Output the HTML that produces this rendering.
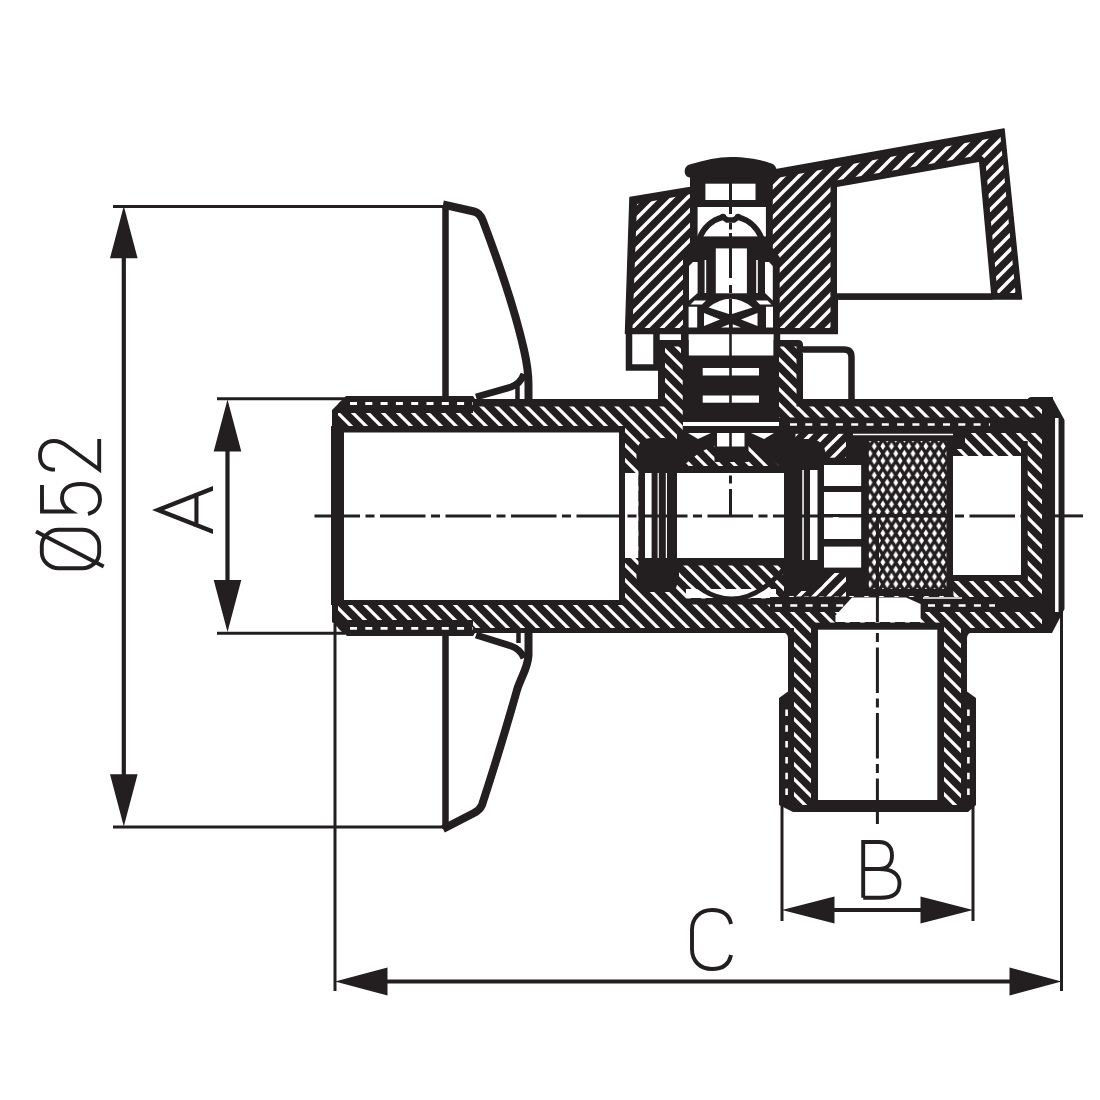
<!DOCTYPE html>
<html><head><meta charset="utf-8">
<style>
html,body{margin:0;padding:0;background:#fff;width:1100px;height:1100px;overflow:hidden;font-family:"Liberation Sans",sans-serif;}
svg{display:block;}
</style></head>
<body>
<svg width="1100" height="1100" viewBox="0 0 1100 1100">
<defs>
<pattern id="hb" patternUnits="userSpaceOnUse" width="15" height="15">
<rect width="15" height="15" fill="#231f20"/>
<path d="M-3.75,-3.75 L18.75,18.75 M-3.75,11.25 L3.75,18.75 M11.25,-3.75 L18.75,3.75" stroke="#fff" stroke-width="3.2"/>
</pattern>
<pattern id="hf" patternUnits="userSpaceOnUse" width="15" height="15">
<rect width="15" height="15" fill="#231f20"/>
<path d="M-3.75,18.75 L18.75,-3.75 M-3.75,3.75 L3.75,-3.75 M11.25,18.75 L18.75,11.25" stroke="#fff" stroke-width="3.4"/>
</pattern>
<pattern id="mesh" patternUnits="userSpaceOnUse" width="8.6" height="14.5" x="865.7" y="435.4">
<rect width="8.6" height="14.5" fill="#231f20"/>
<path d="M4.3,-0.2 L6.75,3.6 L4.3,7.4 L1.85,3.6 Z M0,7.05 L2.45,10.85 L0,14.65 L-2.45,10.85 Z M8.6,7.05 L11.05,10.85 L8.6,14.65 L6.15,10.85 Z" fill="#fff"/>
</pattern>
</defs>
<rect width="1100" height="1100" fill="#fff"/>

<g id="dims" stroke="#231f20" fill="none">
  <!-- extension lines -->
  <path d="M113,206.5 H444 M113,827 H444 M217,398.8 H345 M217,633.3 H345" stroke-width="3"/>
  <path d="M335,624 V991 M1061.5,612 V991 M782,803 V921 M973,803 V921" stroke-width="3"/>
  <!-- dim lines -->
  <path d="M123.8,250 V780 M227.5,445 V585 M380,981.5 H1015 M828,910 H928" stroke-width="4.2"/>
</g>
<g id="arrows" fill="#231f20">
  <path d="M123.8,206 L137.6,258.3 L110,258.3 Z M123.8,826.5 L137.6,774.2 L110,774.2 Z"/>
  <path d="M227.5,399.5 L241.3,451.5 L213.7,451.5 Z M227.5,632 L241.3,580 L213.7,580 Z"/>
  <path d="M335,981.5 L387.5,967.5 L387.5,995.5 Z M1061.5,981.5 L1009.5,967.5 L1009.5,995.5 Z"/>
  <path d="M782,910 L834.5,896.5 L834.5,923.5 Z M973,910 L920.5,896.5 L920.5,923.5 Z"/>
</g>

<!-- text drawn as strokes -->
<g id="txt" stroke="#231f20" fill="none" stroke-width="3.9" stroke-linecap="butt">
  <!-- Ø52 rotated -->
  <g transform="translate(101,571) rotate(-90)">
    <!-- Ø: width ~42, height 61 -->
    <rect x="2.8" y="-59.2" width="38.4" height="57.4" rx="16" ry="17"/>
    <path d="M39.4,-65 L4.6,2.7"/>
    <!-- 5 -->
    <path transform="translate(55,0)" d="M31,-59 H4.5 V-30 C8,-36 12,-39 18,-39 C27,-39 32,-32 32,-20 C32,-8 26,-1 17,-1 C10,-1 4,-5 2,-13"/>
    <!-- 2 -->
    <path transform="translate(99,0)" d="M2.4,-46 C2.4,-56 8,-61 16.5,-61 C25,-61 31,-56 31,-47 C31,-42 29,-38 26,-34 L2.5,-1.8 H33"/>
  </g>
  <!-- A rotated -->
  <g transform="translate(213,534) rotate(-90)">
    <path d="M0,0 L24,-61 L48,0 H43.3 L24,-49 L4.7,0 Z M7,-18.6 H41 V-14.5 H7 Z" fill="#231f20" stroke="none"/>
  </g>
  <!-- B -->
  <g transform="translate(860,899.5)">
    <path d="M3.2,-1.8 V-57.5 H19 C28,-57.5 32,-52 32,-44 C32,-36 28,-30.5 19,-30.5 H3.2 M19,-30.5 C32,-30.5 39.5,-26 39.5,-16 C39.5,-6 33,-1.8 21,-1.8 H3.2"/>
  </g>
  <!-- C -->
  <g transform="translate(690,970)">
    <path d="M41,-46 C39,-56 32,-60 22,-60 C10,-60 2,-52 2,-40 V-21 C2,-9 10,-1 22,-1 C32,-1 39,-5 41,-15"/>
  </g>
</g>

<!--BODY-->
<!-- handle wings -->
<g fill="none" stroke="#231f20" stroke-linejoin="round">
  <path d="M445.5,399 V205" stroke-width="6.5"/>
  <path d="M443,204.5 L474,211.5 C478.5,212.5 481,215.5 483,221 C497,258 515,310 524,350 C527,363 528.5,372 528.5,385 V399" stroke-width="8"/>
  <path d="M476,397 L511,387 C517,385 521,382 524,374" stroke-width="7"/>
  <path d="M517.5,385 V399" stroke-width="4.5"/>
  <path d="M445.5,633 V829" stroke-width="6.5"/>
  <path d="M443,829 L474,813 C478,811 480.5,808.5 482,805 C495,765 508,722 517,690 C521,677 528,668 528.5,655 V633" stroke-width="8"/>
  <path d="M476,635 L511,646 C517,648 521,651 524,658" stroke-width="7"/>
  <path d="M518.5,633 V643" stroke-width="4.5"/>
</g>

<!-- ===== BODY ===== -->
<g id="body">
  <!-- silhouette -->
  <path fill="#231f20" d="M332,410 L346,396 H473 L475,399 H658 V340 H798 Q803,340 803,345 V399 H1053 L1064.5,420 V609 L1052,633 H967 V691.5 L976,698 V805 L968,812 H793 L779,805 V698 L788,691.5 V633 H475 L473,636 H347 L332,622 Z"/>
  <!-- hatch inside -->
  <path fill="url(#hb)" d="M338,413 H473 V406.5 H665 V346.5 H796.5 V406.5 H1042 V628 H961 V805 H794 V628 H347 L338,619 Z"/>
  <!-- thread rows left pipe -->
  <path fill="#231f20" d="M338,404 L341,401 H473 V412 H338 Z"/>
  <path fill="#231f20" d="M338,620 H473 V633 H343 L338,628 Z"/>
  <path d="M350,403.5 H473 M350,628.3 H473" stroke="#fff" stroke-width="2.8" stroke-dasharray="7,8.3"/>
  <!-- left pipe bore -->
  <rect x="331" y="426" width="294" height="179" fill="#231f20"/>
  <rect x="344" y="432.5" width="275" height="167.5" fill="#fff"/>

  <!-- left seat column -->
  <rect x="625" y="473" width="13.5" height="85" fill="#fff"/>
  <rect x="638.5" y="440" width="38.5" height="152" rx="8" fill="#231f20"/>
  <rect x="636.5" y="438" width="42.5" height="35" rx="15" fill="#231f20"/>
  <rect x="636.5" y="557" width="42.5" height="35" rx="15" fill="#231f20"/>
  <rect x="645" y="473" width="6.6" height="85" fill="#fff"/>
  <rect x="657.6" y="473" width="1.2" height="85" fill="#fff"/>
  <rect x="665.8" y="473" width="1.2" height="85" fill="#fff"/>

  <!-- stem region above ball -->
  <rect x="682.7" y="346" width="96.3" height="86" fill="#231f20"/>
  <rect x="688.6" y="334" width="85" height="21.5" fill="#fff"/>
  <rect x="681" y="330" width="7.6" height="26" fill="#231f20"/>
  <rect x="773.6" y="330" width="6.6" height="26" fill="#231f20"/>
  <rect x="702.7" y="368" width="56.3" height="7.5" fill="#fff"/>
  <rect x="702.7" y="395.5" width="56.3" height="7.2" fill="#fff"/>
  <rect x="683" y="422" width="96" height="4" fill="#fff"/>
  <path d="M730.5,334 V403" stroke="#231f20" stroke-width="2.6"/>
  <!-- ball top area -->
  <path fill="url(#hb)" d="M679,438 H782 V466 H679 Z"/>
  <path fill="#231f20" d="M677,432 H785 V438 H677 Z M677,466 H785 V473 H677 Z"/>
  <path fill="#231f20" d="M677,432 H785 V468 Q731,412 677,468 Z"/>
  <path fill="none" stroke="#231f20" stroke-width="6" d="M677,468 Q731,412 785,468"/>
  <rect x="714.5" y="445" width="34" height="17" fill="#231f20"/>
  <path fill="#fff" d="M688,433 H711 L698,439 Z M751,433 H774 L764,439 Z"/>
  <rect x="717" y="433" width="27.5" height="13.5" fill="#fff"/>
  <path d="M730.5,432 V447" stroke="#231f20" stroke-width="2.6"/>
  <!-- ball bore -->
  <rect x="677" y="473" width="107" height="85" fill="#fff"/>
  <rect x="677" y="558" width="107" height="7.5" fill="#231f20"/>
  <path fill="#fff" d="M686,598 V589 H776 V598 Z"/>
  <path fill="none" stroke="#231f20" stroke-width="5" d="M676.5,565.5 Q731,632 786,566.7"/>
  <rect x="684" y="598.5" width="101" height="6" fill="#231f20"/>

  <!-- right seat -->
  <rect x="784" y="433" width="84.7" height="163" fill="#231f20"/>
  <rect x="795.5" y="433.7" width="50.5" height="24" fill="url(#hf)"/>
  <rect x="795.5" y="573" width="50.5" height="23.5" fill="url(#hf)"/>
  <rect x="784" y="441" width="40" height="148" rx="9" fill="#231f20"/>
  <rect x="782.5" y="439" width="43" height="34" rx="15" fill="#231f20"/>
  <rect x="782.5" y="557" width="43" height="34" rx="15" fill="#231f20"/>
  <rect x="810" y="470" width="7.5" height="90" fill="#fff"/>
  <rect x="802.3" y="470" width="1.5" height="90" fill="#fff"/>
  <!-- bars -->
  <rect x="824" y="465" width="37.4" height="21" fill="#fff"/>
  <rect x="824" y="492" width="37.4" height="22" fill="#fff"/>
  <rect x="824" y="517" width="37.4" height="22" fill="#fff"/>
  <rect x="824" y="546.6" width="37.4" height="21" fill="#fff"/>
  <!-- mesh -->
  <rect x="861.4" y="433" width="92" height="163" fill="#231f20"/>
  <rect x="868.7" y="441" width="78" height="148" fill="url(#mesh)"/>
  <path d="M868.7,515.5 H946.6 M877.5,515.5 V589" stroke="#231f20" stroke-width="3"/>
  <!-- right bore -->
  <rect x="953" y="456" width="68" height="119" fill="#fff"/>
  <!-- top wall right: thread row -->
  <rect x="779" y="417.5" width="263" height="16" fill="#231f20"/>
  <rect x="846" y="433" width="196" height="8" fill="#231f20"/>
  <path d="M790,424.5 H990" stroke="#fff" stroke-width="2.6" stroke-dasharray="7,8.3"/>
  <path d="M853,434.5 H960" stroke="#fff" stroke-width="1.4"/>
  <rect x="953" y="433" width="89" height="16" fill="url(#hb)"/>
  <rect x="953" y="433" width="12" height="16" fill="#231f20"/>
  <rect x="946.6" y="441" width="6.4" height="148" fill="#231f20"/>
  <rect x="1021" y="441" width="6.7" height="141" fill="#231f20"/>
  <rect x="946.6" y="575" width="81" height="6" fill="#231f20"/>
  <!-- bottom wall right: thread row -->
  <rect x="770" y="597" width="272" height="15" fill="#231f20"/>
  <path d="M775,605.5 H995" stroke="#fff" stroke-width="2.6" stroke-dasharray="7,8.3"/>
  <path d="M923,598 H962" stroke="#fff" stroke-width="1.4"/>
  <!-- right end -->
  <path fill="#231f20" d="M1027,405 V402 Q1027,397 1032,397 H1053 V405 Z"/>
  <rect x="1042" y="405" width="12" height="223" fill="#231f20"/>
  <path d="M1056.8,418 V612" stroke="#fff" stroke-width="3.5"/>

  <!-- outlet -->
  <path fill="#231f20" d="M789,632 H782 A6,6 0 0 1 788,638 Z M966,632 H973 A6,6 0 0 0 967,638 Z"/>
  <rect x="811" y="622.6" width="133" height="189" fill="#231f20"/>
  <rect x="818" y="629.7" width="119.3" height="170.3" fill="#fff"/>
  <path d="M786.6,709.5 V800 M968.4,709.5 V800" stroke="#fff" stroke-width="2.6" stroke-dasharray="6.5,9.3"/>
  <path fill="#fff" d="M835.5,622 V615.5 L852,597.5 H906 L920.6,604 V622 Z"/>
  <path d="M877.4,597 V622" stroke="#231f20" stroke-width="3"/>
</g>

<!-- ear and small rect outlines -->
<g fill="#fff" stroke="#231f20" stroke-width="6.5">
  <path d="M799,349.5 H844 Q851.5,349.5 851.5,357 V402"/>
  <path d="M629,331 V367.5 H656.5 V331"/>
</g>

<!-- ===== HANDLE ===== -->
<g id="handle">
  <path fill="#231f20" stroke="#231f20" stroke-width="1.5" stroke-linejoin="round" d="M630,197.5 L690,187.5 L777,169.5 L1004,129 L1021.5,299 H837.3 V333.5 H625.5 Z"/>
  <path fill="url(#hf)" d="M637,204 L1000.5,136.5 L1015.5,293 H830.5 V328 H632.5 Z"/>
  <path fill="#fff" stroke="#231f20" stroke-width="13" stroke-linejoin="round" d="M837,187 L979,162 L991,293.2 H837 Z"/>
  <path fill="#fff" d="M837,187 L979,162 L991,293.2 H837 Z"/>
  <!-- stem column -->
  <path fill="#231f20" d="M690,172 H772.8 V248 L779.7,257 V334 H683 V257 L690,248 Z"/>
  <path fill="#231f20" d="M690,177.5 C683.5,177.5 682.5,166.5 689.5,164.5 C705,160 718,157 731,157 C748,157 762,160 771.5,163.5 C778.5,166 778.5,177.5 772,177.5 Z"/>
  <rect x="705.4" y="183.7" width="50.1" height="16.3" fill="#fff"/>
  <rect x="697.6" y="207" width="68.3" height="29.4" fill="#fff"/>
  <circle cx="723" cy="217" r="3.2" fill="#231f20"/><circle cx="738" cy="217" r="3.2" fill="#231f20"/>
  <path fill="none" stroke="#231f20" stroke-width="5.6" d="M699.5,238 A36,36 0 0 1 723,217 L727,220 H734 L738,217 A36,36 0 0 1 761.5,238"/>
  <rect x="715.8" y="248.4" width="31.1" height="44.9" fill="#fff"/>
  <path fill="#fff" d="M689,266 L693,262 H697.6 V293 L689,300.5 Z M765,262 H769 L772.8,266 V300.5 L765,293 Z"/>
  <rect x="704.6" y="260" width="1.6" height="33" fill="#fff"/>
  <rect x="756.2" y="260" width="1.6" height="33" fill="#fff"/>
  <path fill="#fff" d="M694.5,300.5 H706 L702,304.6 H690.5 Z M756,300.5 H767.5 L771.5,304.6 H760 Z"/>
  <path fill="#fff" d="M708.6,307.5 Q730.5,290 752.5,307.5 L730.5,314.5 Z"/>
  <path fill="#fff" d="M704,313 L720,319.4 L704,326 Z M757.5,313 L741,319.4 L757.5,326 Z"/>
  <path fill="#fff" d="M721,327.5 L729.2,324.2 V327.5 Z M741,327.5 L732.8,324.2 V327.5 Z"/>
  <path fill="#fff" d="M688.6,306.7 H697.2 V327.5 H688.6 Z M766,306.7 H773 V327.5 H766 Z"/>
  <path stroke="#231f20" stroke-width="3" d="M730.5,183 V200 M730.5,207 V214 M730.5,223 V229.5 M730.5,233 V237 M730.5,248 V278 M730.5,285 V293 M730.5,299 V330"/>
</g>

<!-- center lines -->
<g stroke="#231f20" stroke-width="3" fill="none">
  <path d="M314.5,515.9 H1021" stroke-dasharray="45.5,5.5,9,5.5"/>
  <path d="M1052,515.9 H1083"/>
  <path d="M877.4,633 V826" stroke-dasharray="9,5.5,45.5,5.5" stroke-width="3"/>
  <path d="M730.5,475.5 V483.6 M730.5,489 V516" stroke-width="3"/>
</g>
<!--/BODY-->
</svg>
</body></html>
